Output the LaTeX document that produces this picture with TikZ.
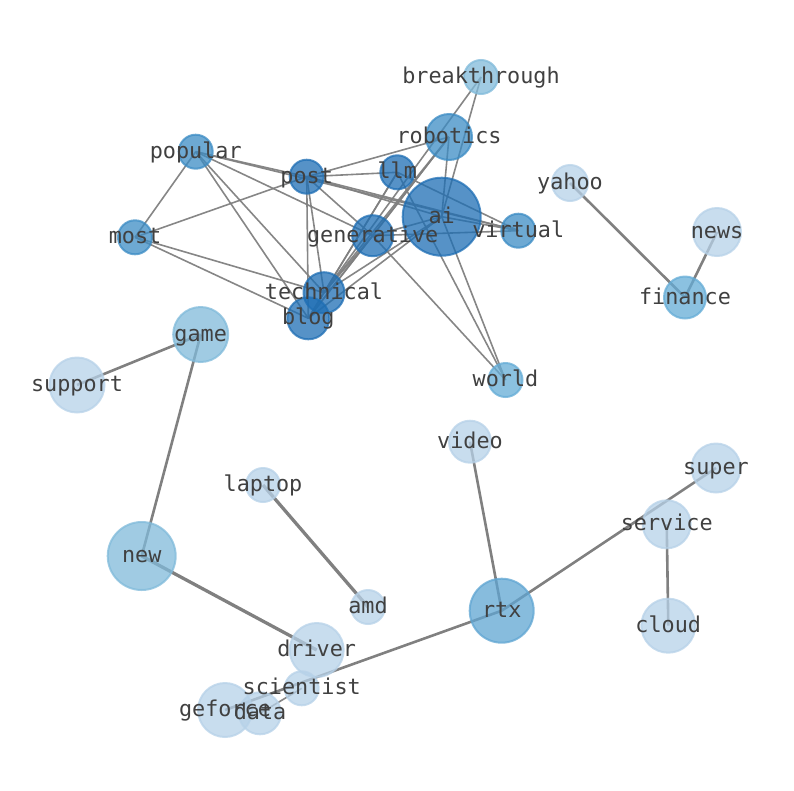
\documentclass[tikz,border=0pt]{standalone}
\usepackage{fontspec}
\setmonofont{DejaVu Sans Mono}
\pgfdeclarelayer{edges}
\pgfsetlayers{edges,main}
\definecolor{cD}{RGB}{30,110,180}
\definecolor{cM}{RGB}{60,140,196}
\definecolor{cR}{RGB}{95,165,210}
\definecolor{cF}{RGB}{100,172,214}
\definecolor{cG}{RGB}{128,186,218}
\definecolor{cL}{RGB}{182,209,232}
\definecolor{egray}{RGB}{128,128,128}
\tikzset{
  vtx/.style={circle, inner sep=0pt, minimum size=#1, line width=2pt, fill opacity=0.75, draw opacity=0.75},
  vD/.style={vtx=#1, fill=cD, draw=cD},
  vM/.style={vtx=#1, fill=cM, draw=cM},
  vR/.style={vtx=#1, fill=cR, draw=cR},
  vF/.style={vtx=#1, fill=cF, draw=cF},
  vG/.style={vtx=#1, fill=cG, draw=cG},
  vL/.style={vtx=#1, fill=cL, draw=cL},
  lbl/.style={font=\ttfamily\fontsize{21.8pt}{26pt}\selectfont, text=black!75, inner sep=0pt, text height=0.76em, text depth=0.24em, anchor=center, yshift=-4pt},
  ethin/.style={draw=egray, line width=1.6pt, draw opacity=0.95},
  emid/.style={draw=egray, line width=2.6pt},
  ethick/.style={draw=egray, line width=3.3pt},
}
\begin{document}
\begin{tikzpicture}[x=1pt,y=-1pt]
\useasboundingbox (0,0) rectangle (794,790);
% nodes (circles)
\node[vG=34] (breakthrough) at (481,77) {};
\node[vM=46] (robotics) at (449,137) {};
\node[vM=34] (popular) at (195.7,151.7) {};
\node[vL=36] (yahoo) at (570,183) {};
\node[vL=48] (news) at (717,232) {};
\node[vM=34] (most) at (135,237.3) {};
\node[vM=34] (virtual) at (518.3,230.7) {};
\node[vF=42] (finance) at (685,297.5) {};
\node[vG=55] (game) at (200.7,334.5) {};
\node[vL=55] (support) at (77,385) {};
\node[vF=34] (world) at (505.5,380) {};
\node[vL=42] (video) at (470,441.7) {};
\node[vL=49] (super) at (716,468) {};
\node[vL=34] (laptop) at (263,485) {};
\node[vL=48] (service) at (666.7,524.3) {};
\node[vG=68] (new) at (141.7,556) {};
\node[vL=34] (amd) at (368,607) {};
\node[vR=64] (rtx) at (501.7,610.7) {};
\node[vL=54] (cloud) at (668.3,625.7) {};
\node[vL=54] (driver) at (316.7,650) {};
\node[vL=34] (scientist) at (301.7,688.3) {};
\node[vL=54] (geforce) at (225,710) {};
\node[vL=42] (data) at (260,713.3) {};
\node[vD=78] (ai) at (441.7,216.7) {};
\node[vD=34] (post) at (306.7,176.7) {};
\node[vD=34] (llm) at (397.3,172.3) {};
\node[vD=41] (generative) at (372.7,235.7) {};
\node[vD=41] (technical) at (324,292.7) {};
\node[vD=42] (blog) at (308.3,318.3) {};
% edges
\begin{pgfonlayer}{edges}
\foreach \a/\b in {popular/post, popular/most, popular/technical, popular/blog, popular/generative, popular/virtual,
  post/llm, post/robotics, post/ai, post/virtual, post/most, post/technical, post/blog, post/generative,
  llm/virtual, llm/technical, llm/blog, llm/world,
  ai/virtual, ai/generative, ai/technical, ai/blog, ai/world, ai/breakthrough, ai/robotics,
  generative/virtual, generative/technical, generative/blog, generative/robotics, generative/world,
  robotics/technical, robotics/blog, breakthrough/technical,
  most/technical, most/blog, technical/blog}
  \draw[ethin] (\a.center) -- (\b.center);
\foreach \a/\b in {yahoo/finance, news/finance, game/support, game/new, video/rtx, rtx/super, service/cloud, rtx/geforce}
  \draw[emid] (\a.center) -- (\b.center);
\draw[ethin] (scientist.center) -- (data.center);
\foreach \a/\b in {new/driver, laptop/amd}
  \draw[ethick] (\a.center) -- (\b.center);
\end{pgfonlayer}
% labels
\foreach \n in {breakthrough, robotics, popular, yahoo, news, most, virtual, finance, game, support, world, video, super, laptop, service, new, amd, rtx, cloud, driver, scientist, geforce, data, ai, post, llm, generative, technical, blog}
  \node[lbl] (l-\n) at (\n.center) {\n};
\end{tikzpicture}
\end{document}
